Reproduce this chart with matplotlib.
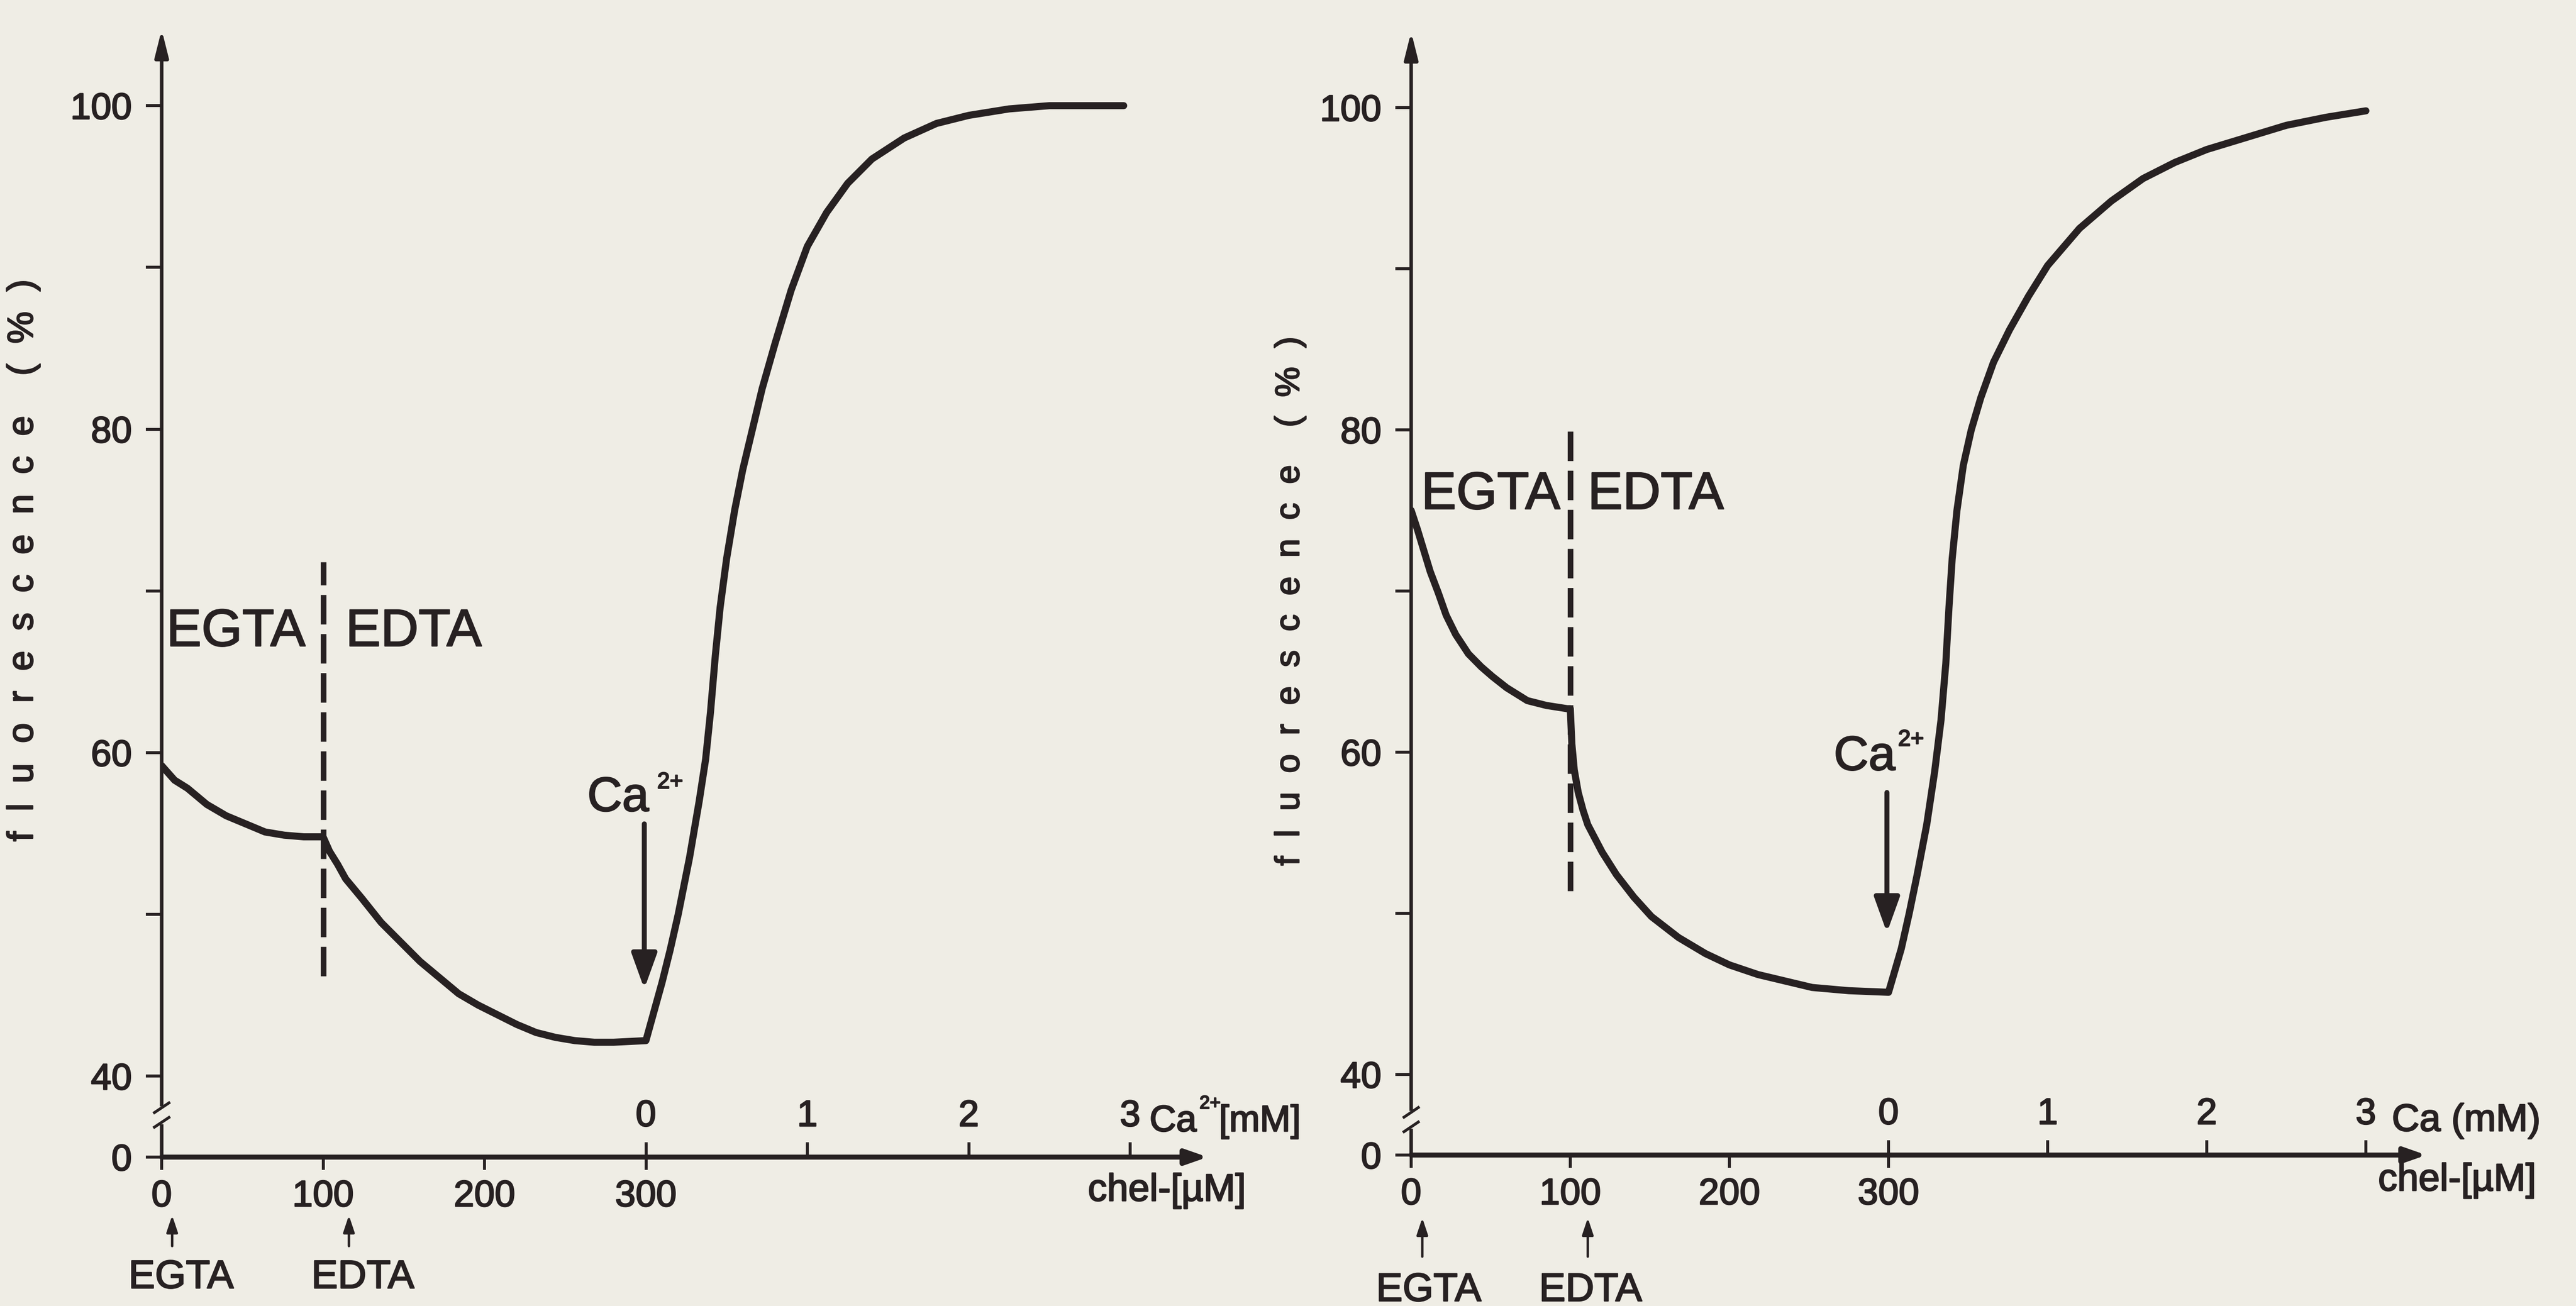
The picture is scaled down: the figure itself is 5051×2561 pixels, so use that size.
import matplotlib
matplotlib.use('Agg')
import matplotlib.pyplot as plt
import matplotlib.patheffects as pe
import numpy as np

# ---------------- data ----------------
# Left panel: chelator titration (µM) then Ca2+ addition (mM)
left_chel_um = [0, 8, 16, 28, 40, 52, 64, 76, 88, 100, 104, 109, 114, 124, 136, 148,
                160, 172, 184, 196, 208, 220, 232, 244, 256, 268, 280, 300]
left_chel_fl = [59.2, 58.3, 57.8, 56.8, 56.1, 55.6, 55.1, 54.9, 54.8, 54.8, 53.9, 53.1,
                52.2, 51.0, 49.5, 48.3, 47.1, 46.1, 45.1, 44.4, 43.8, 43.2, 42.7, 42.4,
                42.2, 42.1, 42.1, 42.2]
left_ca_mm = [0, 0.05, 0.10, 0.15, 0.20, 0.27, 0.33, 0.37, 0.40, 0.43, 0.46, 0.50, 0.55,
              0.60, 0.66, 0.72, 0.80, 0.90, 1.00, 1.12, 1.25, 1.40, 1.60, 1.80, 2.00,
              2.25, 2.50, 2.75, 2.96]
left_ca_fl = [42.2, 44.0, 45.8, 47.8, 50.0, 53.5, 57.0, 59.6, 62.5, 66.0, 69.0, 72.0, 75.0,
              77.5, 80.0, 82.5, 85.3, 88.6, 91.3, 93.4, 95.2, 96.7, 98.0, 98.9, 99.4,
              99.8, 100.0, 100.0, 100.0]

# Right panel
right_chel_um = [0, 4, 8, 12, 17, 22, 28, 36, 44, 51, 60, 73, 85, 98, 100, 101, 102.5,
                 105, 108, 111, 120, 129, 140, 151, 168, 185, 200, 218, 235, 252, 275, 300]
right_chel_fl = [75.0, 73.8, 72.5, 71.2, 69.9, 68.5, 67.3, 66.1, 65.3, 64.7, 64.0, 63.2,
                 62.9, 62.7, 62.7, 60.5, 58.9, 57.5, 56.4, 55.5, 53.8, 52.4, 51.0, 49.8,
                 48.5, 47.5, 46.8, 46.2, 45.8, 45.4, 45.2, 45.1]
right_ca_mm = [0, 0.08, 0.13, 0.18, 0.24, 0.29, 0.33, 0.36, 0.38, 0.40, 0.43, 0.47, 0.52,
               0.58, 0.66, 0.76, 0.88, 1.0, 1.2, 1.4, 1.6, 1.8, 2.0, 2.2, 2.5, 2.75, 3.0]
right_ca_fl = [45.1, 47.8, 50.0, 52.4, 55.5, 58.8, 62.0, 65.5, 69.0, 72.0, 75.0, 77.8, 80.0,
               82.0, 84.2, 86.2, 88.3, 90.2, 92.5, 94.2, 95.6, 96.6, 97.4, 98.0, 98.9,
               99.4, 99.8]

chel_ticks = [0, 100, 200, 300]
ca_ticks = [0, 1, 2, 3]
y_ticks = [40, 50, 60, 70, 80, 90, 100]
y_ticklabels = ['40', '', '60', '', '80', '', '100']
y_zero_label = '0'
edta_addition_um = 100
ca_start_um = 300

# ---------------- style ----------------
BG = '#efede5'
INK = '#272122'
Y_ZERO = 35          # where the broken y axis shows its "0"
CA_PER_MM = 100      # 1 mM Ca occupies the length of 100 µM chelator
HEAVY = [pe.withStroke(linewidth=1.8, foreground=INK)]

plt.rcParams['font.family'] = ['Liberation Sans', 'DejaVu Sans']

fig = plt.figure(figsize=(50.51, 25.61), dpi=100, facecolor=BG)

W, H = 5051, 2561


def make_axes(x0px, ypx0, pxx, pxy):
    width = 660 * pxx
    height = (106 - Y_ZERO) * pxy
    return fig.add_axes([x0px / W, (H - ypx0) / H, width / W, height / H])


def to_plot_x(ca):
    return ca_start_um + CA_PER_MM * np.asarray(ca, dtype=float)


def txt(ax, x, y, s, size, **kw):
    t = ax.text(x, y, s, fontsize=size, color=INK, **kw)
    t.set_path_effects(HEAVY)
    return t


def panel(ax, chel_um, chel_fl, ca_mm, ca_fl, opts):
    ax.set_xlim(0, 660)
    ax.set_ylim(Y_ZERO, 106)
    ax.patch.set_alpha(0)
    for s in ax.spines.values():
        s.set_visible(False)

    # curve
    xs = list(chel_um) + list(to_plot_x(ca_mm))
    ys = list(chel_fl) + list(ca_fl)
    ax.plot(xs, ys, color=INK, lw=10, solid_joinstyle='round',
            solid_capstyle='round', zorder=5)

    # y axis ticks
    ax.set_yticks([Y_ZERO] + y_ticks, [y_zero_label] + y_ticklabels)
    ax.tick_params(axis='y', direction='out', length=22, width=4.2, pad=20,
                   labelsize=52, colors=INK)
    # chelator ticks (below)
    ax.set_xticks(chel_ticks, [str(t) for t in chel_ticks])
    ax.tick_params(axis='x', direction='out', length=18, width=4.2, pad=14,
                   labelsize=52, colors=INK)
    # Ca ticks (above the same line)
    sec = ax.secondary_xaxis(0.0, functions=(lambda x: (x - ca_start_um) / CA_PER_MM,
                                             lambda c: ca_start_um + CA_PER_MM * c))
    sec.set_alignment('top')
    sec.set_xticks(ca_ticks, [str(c) for c in ca_ticks])
    sec.tick_params(axis='x', direction='out', length=21, width=4.2, pad=12,
                    labelsize=52, colors=INK)
    for s in sec.spines.values():
        s.set_visible(False)
    for lab in ax.get_xticklabels() + ax.get_yticklabels() + sec.get_xticklabels():
        lab.set_path_effects(HEAVY)

    # axis lines with arrow heads
    ax.annotate('', xy=(0, 104.7), xytext=(0, Y_ZERO), annotation_clip=False,
                arrowprops=dict(arrowstyle='-|>,head_length=1.0,head_width=0.25',
                                mutation_scale=32, lw=5, color=INK,
                                shrinkA=0, shrinkB=0), zorder=4)
    ax.annotate('', xy=(opts['x_end'], Y_ZERO), xytext=(0, Y_ZERO), annotation_clip=False,
                arrowprops=dict(arrowstyle='-|>,head_length=0.8,head_width=0.28',
                                mutation_scale=32, lw=7, color=INK,
                                shrinkA=0, shrinkB=0), zorder=4)

    # axis break marks
    yb = opts['break_y']
    ax.plot([0, 0], [yb - 0.55, yb + 0.55], color=BG, lw=9, clip_on=False, zorder=6,
            solid_capstyle='butt')
    for dy in (-0.45, 0.45):
        ax.plot([-4.5, 4.5], [yb + dy - 0.3, yb + dy + 0.3], color=INK, lw=4,
                clip_on=False, zorder=7)

    # dashed divider between EGTA and EDTA
    ax.plot([edta_addition_um, edta_addition_um], opts['divider'], color=INK, lw=8,
            ls=(0, (5.2, 1.7)), dash_capstyle='butt', zorder=4)
    txt(ax, opts['egta_x'], opts['label_y'], 'EGTA', 74, ha='left', va='baseline')
    txt(ax, opts['edta_x'], opts['label_y'], 'EDTA', 74, ha='left', va='baseline')

    # Ca2+ addition arrow and label
    ax.annotate('', xy=(ca_start_um - 1, opts['ca_arrow'][1]),
                xytext=(ca_start_um - 1, opts['ca_arrow'][0]),
                arrowprops=dict(arrowstyle='-|>,head_length=1.0,head_width=0.36',
                                mutation_scale=42, lw=7, color=INK,
                                shrinkA=0, shrinkB=0), zorder=6)
    txt(ax, opts['ca_label'][0], opts['ca_label'][1], 'Ca', 68, ha='left', va='baseline')
    txt(ax, opts['ca_sup'][0], opts['ca_sup'][1], '2+', 32, ha='left', va='baseline')

    # axis unit labels
    for s, (x, y), size in opts['ca_unit']:
        txt(ax, x, y, s, size, ha='left', va='baseline')
    txt(ax, opts['chel_unit_x'], opts['chel_unit_y'], 'chel-[µM]', 54,
        ha='left', va='baseline')

    # small arrows for additions
    for name, xa, xt in (('EGTA', opts['egta_arrow_x'], opts['egta_text_x']),
                         ('EDTA', opts['edta_arrow_x'], opts['edta_text_x'])):
        ax.annotate('', xy=(xa, opts['small_arrow'][1]), xytext=(xa, opts['small_arrow'][0]),
                    annotation_clip=False,
                    arrowprops=dict(arrowstyle='-|>,head_length=0.9,head_width=0.3',
                                    mutation_scale=22, lw=3.5, color=INK,
                                    shrinkA=0, shrinkB=0))
        txt(ax, xt, opts['small_text_y'], name, 56, ha='center', va='top')

    # y axis title
    t = ax.text(opts['ylabel_pos'][0], opts['ylabel_pos'][1],
                'f  l  u  o  r  e  s  c  e  n  c  e    (  %  )', fontsize=opts['ylabel_size'],
                color=INK, rotation=90, ha='center', va='center', transform=ax.transAxes)
    t.set_path_effects(HEAVY)


axL = make_axes(317, 2269, 3.165, 31.72)
panel(axL, left_chel_um, left_chel_fl, left_ca_mm, left_ca_fl, dict(
    x_end=648, break_y=37.6, divider=(46.2, 71.8), egta_x=3, edta_x=114, label_y=66.6,
    ca_arrow=(55.6, 45.4), ca_label=(263.7, 56.4), ca_sup=(307, 57.8),
    ca_unit=[('Ca', (612, 36.6), 52), ('2+', (643, 38.0), 26), ('[mM]', (655, 36.6), 52)],
    chel_unit_x=573.8, chel_unit_y=32.3,
    egta_arrow_x=6.5, edta_arrow_x=116, egta_text_x=12, edta_text_x=124.6,
    small_arrow=(29.5, 31.4), small_text_y=28.7, ylabel_pos=(-0.1297, 0.52),
    ylabel_size=51))

axR = make_axes(2767, 2265, 3.12, 31.6)
panel(axR, right_chel_um, right_chel_fl, right_ca_mm, right_ca_fl, dict(
    x_end=638, break_y=37.2, divider=(51.4, 80.4), egta_x=6.4, edta_x=111, label_y=75.1,
    ca_arrow=(57.5, 48.8), ca_label=(265.6, 58.9), ca_sup=(306, 60.4),
    ca_unit=[('Ca (mM)', (616.3, 36.5), 54)],
    chel_unit_x=607.7, chel_unit_y=32.8,
    egta_arrow_x=7, edta_arrow_x=111, egta_text_x=11, edta_text_x=112.7,
    small_arrow=(28.7, 31.1), small_text_y=27.75, ylabel_pos=(-0.1151, 0.484),
    ylabel_size=48))

fig.savefig('out.png', dpi=100, facecolor=BG)
